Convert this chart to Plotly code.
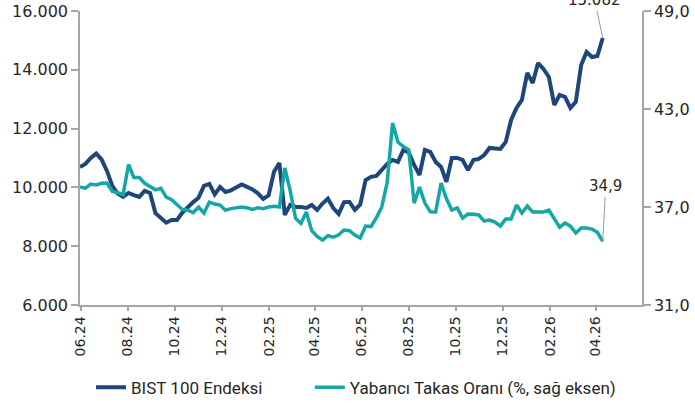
import pandas as pd
import plotly.graph_objects as go

# Weekly observations (Friday closes)
dates = pd.date_range("2024-05-31", periods=98, freq="7D")

bist100 = [
    10696, 10800, 11000, 11150, 10950, 10560, 10050, 9790, 9676, 9812,
    9740, 9676, 9880, 9812, 9120, 8950, 8800, 8890, 8894, 9140,
    9330, 9500, 9650, 10050, 10118, 9760, 10016, 9846, 9900, 10000,
    10100, 10016, 9930, 9800, 9610, 9730, 10530, 10832, 9064, 9404,
    9336, 9330, 9300, 9400, 9234, 9450, 9620, 9300, 9100, 9500,
    9506, 9234, 9420, 10254, 10360, 10390, 10594, 10800, 10934, 10866,
    11274, 11190, 10764, 10424, 11274, 11206, 10866, 10696, 10186, 11002,
    11002, 10934, 10594, 10934, 10968, 11100, 11342, 11330, 11308, 11546,
    12294, 12702, 12974, 13892, 13552, 14232, 14028, 13756, 12804, 13144,
    13076, 12702, 12906, 14164, 14606, 14436, 14470, 15082,
]

yabanci = [
    38.22, 38.15, 38.40, 38.35, 38.45, 38.47, 37.95, 37.88, 37.75, 39.60,
    38.80, 38.80, 38.45, 38.22, 38.05, 38.15, 37.60, 37.45, 37.15, 36.85,
    36.80, 36.65, 37.00, 36.63, 37.30, 37.18, 37.12, 36.80, 36.90, 36.94,
    37.00, 36.95, 36.85, 36.95, 36.90, 37.00, 37.05, 37.00, 39.39, 38.00,
    36.30, 36.00, 36.69, 35.55, 35.20, 34.98, 35.25, 35.15, 35.30, 35.59,
    35.55, 35.28, 35.10, 35.83, 35.80, 36.35, 37.00, 38.50, 42.14, 40.98,
    40.70, 40.50, 37.24, 38.22, 37.24, 36.70, 36.69, 38.47, 37.50, 36.81,
    36.94, 36.32, 36.57, 36.55, 36.51, 36.14, 36.20, 36.08, 35.83, 36.26,
    36.26, 37.12, 36.63, 37.06, 36.69, 36.69, 36.70, 36.81, 36.32, 35.77,
    36.02, 35.83, 35.41, 35.71, 35.71, 35.65, 35.45, 34.90,
]

series_names = ["BIST 100 Endeksi", "Yabancı Takas Oranı (%, sağ eksen)"]
left_ticks = [6000, 8000, 10000, 12000, 14000, 16000]
left_labels = ["6.000", "8.000", "10.000", "12.000", "14.000", "16.000"]
right_ticks = [31, 37, 43, 49]
right_labels = ["31,0", "37,0", "43,0", "49,0"]
last_labels = ["15.082", "34,9"]

NAVY = "#1E4679"
TEAL = "#13A8A6"
AXIS = "#A6A6A6"
TXT = "#262626"
FONT = "DejaVu Sans"
LEGEND_FONT = dict(family="Roboto", size=17, color=TXT)

fig = go.Figure()
fig.add_trace(go.Scatter(x=dates, y=bist100, name=series_names[0], mode="lines",
                         line=dict(color=NAVY, width=4), yaxis="y", legend="legend"))
fig.add_trace(go.Scatter(x=dates, y=yabanci, name=series_names[1], mode="lines",
                         line=dict(color=TEAL, width=3.5), yaxis="y2", legend="legend2"))

fig.add_annotation(x=dates[-1], y=bist100[-1], xref="x", yref="y", text=last_labels[0],
                   showarrow=True, arrowhead=0, arrowwidth=1, arrowcolor="#999999",
                   ax=-8, ay=-48, font=dict(family=FONT, size=15, color=TXT))
fig.add_annotation(x=dates[-1], y=yabanci[-1], xref="x", yref="y2", text=last_labels[1],
                   showarrow=True, arrowhead=0, arrowwidth=1, arrowcolor="#999999",
                   ax=3, ay=-55, font=dict(family=FONT, size=15, color=TXT))

fig.update_layout(
    width=695, height=408,
    margin=dict(l=80, r=53, t=11, b=103, autoexpand=False),
    paper_bgcolor="white", plot_bgcolor="white",
    font=dict(family=FONT, size=15, color=TXT),
    showlegend=True,
    legend=dict(orientation="h", x=0.0196, xanchor="left", y=-0.22, yanchor="top",
                font=LEGEND_FONT),
    legend2=dict(orientation="h", x=0.409, xanchor="left", y=-0.22, yanchor="top",
                 font=LEGEND_FONT),
    xaxis=dict(type="date", range=["2024-05-31", "2026-05-31"], automargin=False,
               tick0="2024-06-01", dtick="M2", tickformat="%m.%y", tickangle=-90,
               showgrid=False, zeroline=False, showline=True, linecolor=AXIS, linewidth=1.5,
               ticks="outside", ticklen=4, tickcolor=AXIS, tickwidth=1.5,
               tickfont=dict(family=FONT, size=14, color=TXT)),
    yaxis=dict(range=[6000, 16000], tickvals=left_ticks, ticktext=left_labels, automargin=False,
               showgrid=False, zeroline=False, showline=True, linecolor=AXIS, linewidth=1.5,
               ticks="outside", ticklen=7, tickcolor=AXIS, tickwidth=1.5,
               tickfont=dict(family=FONT, size=16, color=TXT)),
    yaxis2=dict(range=[31, 49], tickvals=right_ticks, ticktext=right_labels, automargin=False,
                overlaying="y", side="right",
                showgrid=False, zeroline=False, showline=True, linecolor=AXIS, linewidth=1.5,
                ticks="outside", ticklen=7, tickcolor=AXIS, tickwidth=1.5,
                tickfont=dict(family=FONT, size=16, color=TXT)),
)

fig.write_html("out.html", config={"displayModeBar": False},
               post_script="document.body.style.margin='0px';")
